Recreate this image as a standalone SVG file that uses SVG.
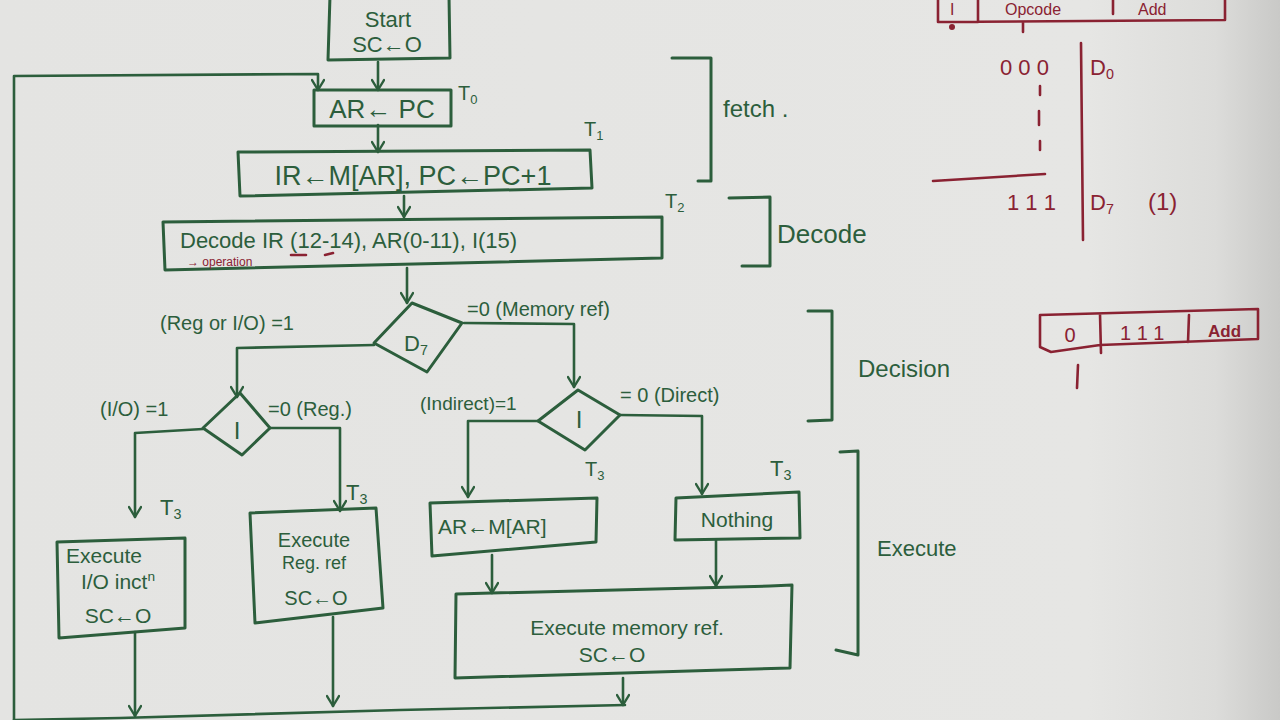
<svg xmlns="http://www.w3.org/2000/svg" width="1280" height="720" viewBox="0 0 1280 720">
<defs>
<linearGradient id="paper" x1="0" y1="0" x2="1" y2="0">
<stop offset="0" stop-color="#e4e4e2"/>
<stop offset="0.85" stop-color="#e6e6e4"/>
<stop offset="0.95" stop-color="#dcdcda"/>
<stop offset="1" stop-color="#c9c9c7"/>
</linearGradient>
<marker id="ah" viewBox="0 0 14 14" refX="12" refY="7" markerWidth="14" markerHeight="14" markerUnits="userSpaceOnUse" orient="auto">
<path d="M2,1 L12,7 L2,13" fill="none" stroke="#2c5e3c" stroke-width="2.4" stroke-linecap="round" stroke-linejoin="round"/>
</marker>
<style>
.g{fill:none;stroke:#2c5e3c;stroke-width:3;stroke-linecap:round;stroke-linejoin:round}
.c{fill:none;stroke:#2c5e3c;stroke-width:2.6;stroke-linecap:round;stroke-linejoin:round}
.r{fill:none;stroke:#8a2232;stroke-width:2.6;stroke-linecap:round;stroke-linejoin:round}
.t{font-family:"Liberation Sans",Arial,sans-serif;fill:#2c5e3c}
.tr{font-family:"Liberation Sans",Arial,sans-serif;fill:#8a2232}
.s{font-size:0.65em}
</style>
</defs>
<rect width="1280" height="720" fill="url(#paper)"/>

<g id="connectors">
<path class="c" d="M14,720 L14,76 L318,74 L318,90" marker-end="url(#ah)"/>
<path class="c" d="M378,62 L378,90" marker-end="url(#ah)"/>
<path class="c" d="M378,125 L378,152" marker-end="url(#ah)"/>
<path class="c" d="M404,196 L404,217" marker-end="url(#ah)"/>
<path class="c" d="M407,268 L407,303" marker-end="url(#ah)"/>
<path class="c" d="M374,345 L237,348 L237,397" marker-end="url(#ah)"/>
<path class="c" d="M464,323 L574,324 L574,387" marker-end="url(#ah)"/>
<path class="c" d="M203,429 L135,433 L135,517" marker-end="url(#ah)"/>
<path class="c" d="M270,428 L340,428 L340,511" marker-end="url(#ah)"/>
<path class="c" d="M538,421 L468,421 L468,497" marker-end="url(#ah)"/>
<path class="c" d="M620,415 L702,416 L702,494" marker-end="url(#ah)"/>
<path class="c" d="M492,555 L492,593" marker-end="url(#ah)"/>
<path class="c" d="M716,540 L716,586" marker-end="url(#ah)"/>
<path class="c" d="M135,632 L135,716" marker-end="url(#ah)"/>
<path class="c" d="M333,617 L333,706" marker-end="url(#ah)"/>
<path class="c" d="M623,678 L623,705" marker-end="url(#ah)"/>
<path class="c" d="M14,720 L120,718 L400,710 L625,705"/>
</g>

<g id="start">
<path class="g" d="M330,-4 L328,60 L450,58 L449,-4"/>
<text class="t" x="388" y="27" font-size="22" text-anchor="middle">Start</text>
<text class="t" x="387" y="52" font-size="22" text-anchor="middle">SC←O</text>
</g>

<g id="ar-pc">
<rect class="g" x="314" y="90" width="137" height="36"/>
<text class="t" x="382" y="118" font-size="26" text-anchor="middle">AR← PC</text>
<text class="t" x="458" y="100" font-size="20">T<tspan class="s" dy="4">0</tspan></text>
</g>

<g id="ir-fetch">
<path class="g" d="M238,152 L590,150 L592,188 L240,196 Z"/>
<text class="t" x="413" y="185" font-size="27" text-anchor="middle">IR←M[AR], PC←PC+1</text>
<text class="t" x="584" y="136" font-size="20">T<tspan class="s" dy="4">1</tspan></text>
</g>

<g id="decode">
<path class="g" d="M163,222 L662,217 L662,258 L165,270 Z"/>
<text class="t" x="180" y="248" font-size="22">Decode</text>
<text class="t" x="262" y="248" font-size="22">IR (12-14), AR(0-11), I(15)</text>
<path class="r" d="M291,255 L306,255 M325,255 L333,253"/>
<text class="tr" x="187" y="266" font-size="12">→ operation</text>
<text class="t" x="665" y="208" font-size="20">T<tspan class="s" dy="4">2</tspan></text>
</g>

<g id="d7">
<path class="g" d="M412,303 L462,323 L427,372 L374,343 Z"/>
<text class="t" x="404" y="351" font-size="22">D<tspan class="s" dy="4">7</tspan></text>
<text class="t" x="160" y="330" font-size="20">(Reg or I/O) =1</text>
<text class="t" x="467" y="316" font-size="20">=0  (Memory ref)</text>
</g>

<g id="i-left">
<path class="g" d="M240,393 L270,428 L242,455 L203,428 Z"/>
<text class="t" x="237" y="439" font-size="24" text-anchor="middle">I</text>
<text class="t" x="100" y="416" font-size="20">(I/O) =1</text>
<text class="t" x="268" y="416" font-size="20">=0 (Reg.)</text>
</g>

<g id="i-right">
<path class="g" d="M578,390 L620,415 L585,450 L538,421 Z"/>
<text class="t" x="579" y="428" font-size="24" text-anchor="middle">I</text>
<text class="t" x="420" y="410" font-size="19">(Indirect)=1</text>
<text class="t" x="620" y="402" font-size="20">= 0  (Direct)</text>
</g>

<g id="exec-io">
<path class="g" d="M57,542 L185,538 L185,628 L59,638 Z"/>
<text class="t" x="104" y="563" font-size="21" text-anchor="middle">Execute</text>
<text class="t" x="118" y="589" font-size="21" text-anchor="middle">I/O inct<tspan class="s" dy="-8">n</tspan></text>
<text class="t" x="118" y="623" font-size="21" text-anchor="middle">SC←O</text>
<text class="t" x="160" y="515" font-size="22">T<tspan class="s" dy="4">3</tspan></text>
</g>

<g id="exec-reg">
<path class="g" d="M250,513 L376,508 L383,608 L255,623 Z"/>
<text class="t" x="314" y="547" font-size="20" text-anchor="middle">Execute</text>
<text class="t" x="314" y="569" font-size="18" text-anchor="middle">Reg. ref</text>
<text class="t" x="316" y="605" font-size="20" text-anchor="middle">SC←O</text>
<text class="t" x="346" y="500" font-size="22">T<tspan class="s" dy="4">3</tspan></text>
</g>

<g id="ar-mar">
<path class="g" d="M430,503 L597,498 L596,542 L432,556 Z"/>
<text class="t" x="438" y="534" font-size="21">AR←M[AR]</text>
<text class="t" x="585" y="476" font-size="20">T<tspan class="s" dy="4">3</tspan></text>
</g>

<g id="nothing">
<path class="g" d="M676,498 L799,492 L800,538 L675,540 Z"/>
<text class="t" x="737" y="527" font-size="21" text-anchor="middle">Nothing</text>
<text class="t" x="770" y="476" font-size="22">T<tspan class="s" dy="4">3</tspan></text>
</g>

<g id="exec-mem">
<path class="g" d="M456,594 L770,586 L792,585 L790,668 L455,678 Z"/>
<text class="t" x="627" y="635" font-size="21" text-anchor="middle">Execute memory ref.</text>
<text class="t" x="612" y="662" font-size="21" text-anchor="middle">SC←O</text>
</g>

<g id="phases">
<path class="g" d="M672,58 L711,58 L711,181 L698,181"/>
<text class="t" x="723" y="117" font-size="24">fetch  .</text>
<path class="g" d="M729,198 L770,197 L770,266 L742,266"/>
<text class="t" x="777" y="243" font-size="26">Decode</text>
<path class="g" d="M808,311 L832,311 L832,420 L808,421"/>
<text class="t" x="858" y="377" font-size="24">Decision</text>
<path class="g" d="M840,452 L858,451 L858,655 L836,650"/>
<text class="t" x="877" y="556" font-size="22">Execute</text>
</g>

<g id="notes">
<path class="r" d="M938,-2 L938,22 L1225,20 L1225,-2 M978,-2 L978,22 M1113,0 L1113,14 M1023,22 L1023,32"/>
<circle cx="952" cy="27" r="3" fill="#8a2232"/>
<text class="tr" x="950" y="15" font-size="16">I</text>
<text class="tr" x="1005" y="15" font-size="16">Opcode</text>
<text class="tr" x="1138" y="15" font-size="16">Add</text>
<path class="r" d="M1081,43 L1083,240"/>
<path class="r" d="M933,181 L1045,174"/>
<text class="tr" x="1000" y="75" font-size="22">0 0 0</text>
<text class="tr" x="1090" y="75" font-size="22">D<tspan class="s" dy="4">0</tspan></text>
<path class="r" d="M1040,86 L1040,95 M1039,111 L1039,125 M1040,141 L1040,150"/>
<text class="tr" x="1007" y="210" font-size="22">1 1 1</text>
<text class="tr" x="1090" y="210" font-size="22">D<tspan class="s" dy="4">7</tspan></text>
<text class="tr" x="1148" y="210" font-size="24">(1)</text>
<path class="r" d="M1040,315 L1258,309 L1258,339 L1100,345 L1051,352 L1040,347 Z M1100,314 L1101,353 M1189,315 L1188,342 M1078,365 L1077,388"/>
<text class="tr" x="1070" y="342" font-size="20" text-anchor="middle">0</text>
<text class="tr" x="1120" y="340" font-size="20">1 1 1</text>
<text class="tr" x="1208" y="337" font-size="17" font-weight="bold">Add</text>
</g>
</svg>
